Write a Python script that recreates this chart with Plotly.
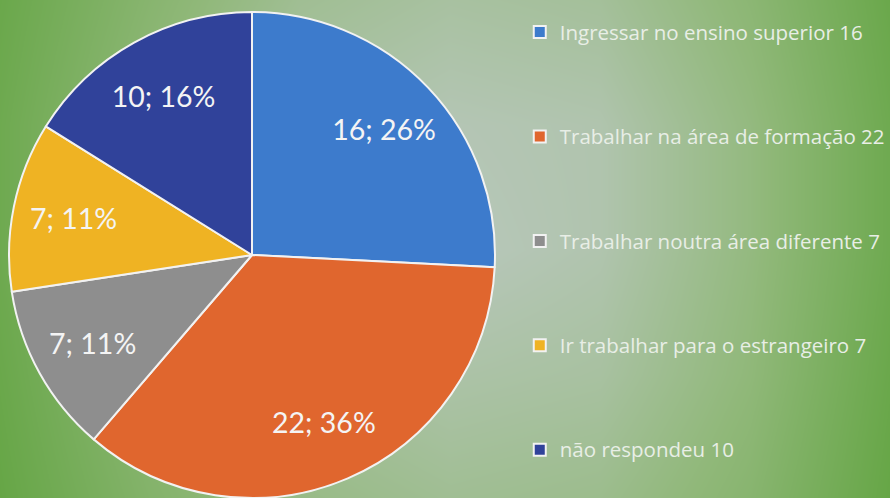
import plotly.graph_objects as go

labels = ["Ingressar no ensino superior 16", "Trabalhar na área de formação 22",
          "Trabalhar noutra área diferente 7", "Ir trabalhar para o estrangeiro 7",
          "não respondeu 10"]
values = [16, 22, 7, 7, 10]
slice_text = ["16; 26%", "22; 36%", "7; 11%", "7; 11%", "10; 16%"]
colors = ["#3d7bcc", "#e0662e", "#8e8e8e", "#efb323", "#30429a"]

# background gradient (styling only)
bg_x = [0, 150, 300, 450, 600, 750, 890]
bg_y = [0, 125, 250, 375, 498]
bg_z = [
    [0.05, 0.40, 0.70, 0.80, 0.75, 0.45, 0.05],
    [0.10, 0.50, 0.85, 0.95, 0.90, 0.55, 0.10],
    [0.10, 0.50, 0.85, 1.00, 0.90, 0.55, 0.10],
    [0.05, 0.45, 0.75, 0.85, 0.80, 0.50, 0.05],
    [0.00, 0.35, 0.60, 0.70, 0.65, 0.40, 0.00],
]

W, H = 890, 498
# first line = text, extra blank lines give the legend spacing
span = '<span style="font-size:20.5px">{}</span>'
legend_labels = [span.format(l) + "<br> <br> <br> " for l in labels[:-1]] + [span.format(labels[-1])]

dom = dict(x=[9 / W, 495 / W], y=[0, 486 / H])

fig = go.Figure()
fig.add_trace(go.Heatmap(x=bg_x, y=bg_y, z=bg_z, zsmooth="best", showscale=False,
                         hoverinfo="skip",
                         colorscale=[[0, "#66a646"], [0.5, "#90b879"], [1, "#b8c7bb"]]))
fig.add_trace(go.Pie(
    labels=legend_labels, values=values, textinfo="none",
    sort=False, direction="clockwise", rotation=0,
    marker=dict(colors=colors, line=dict(color="#f2f2f2", width=2)),
    domain=dom, hoverinfo="value+percent",
))
# transparent ring carrying the slice labels (pushes them outward like the reference)
fig.add_trace(go.Pie(
    labels=legend_labels, values=values, text=slice_text, textinfo="text",
    textposition="inside", insidetextorientation="horizontal",
    sort=False, direction="clockwise", rotation=0, hole=0.5, showlegend=False,
    marker=dict(colors=["rgba(0,0,0,0)"] * len(values), line=dict(width=0)),
    textfont=dict(family="Lato, sans-serif", size=28.5, color="#f4f4f4"),
    domain=dom, hoverinfo="skip",
))
fig.update_layout(
    width=W, height=H, margin=dict(l=0, r=0, t=0, b=0),
    paper_bgcolor="#8aae78", plot_bgcolor="#8aae78",
    xaxis=dict(visible=False, range=[0, 890], domain=[0, 1], fixedrange=True),
    yaxis=dict(visible=False, range=[498, 0], domain=[0, 1], fixedrange=True),
    showlegend=True,
    legend=dict(x=0.584, y=0.974, xanchor="left", yanchor="top", valign="top",
                bgcolor="rgba(0,0,0,0)", itemclick=False,
                font=dict(family="Open Sans, sans-serif", size=19.5, color="#e8eee6")),
)
fig.write_html("out.html", config={"displayModeBar": False},
               post_script="document.body.style.margin='0';")
